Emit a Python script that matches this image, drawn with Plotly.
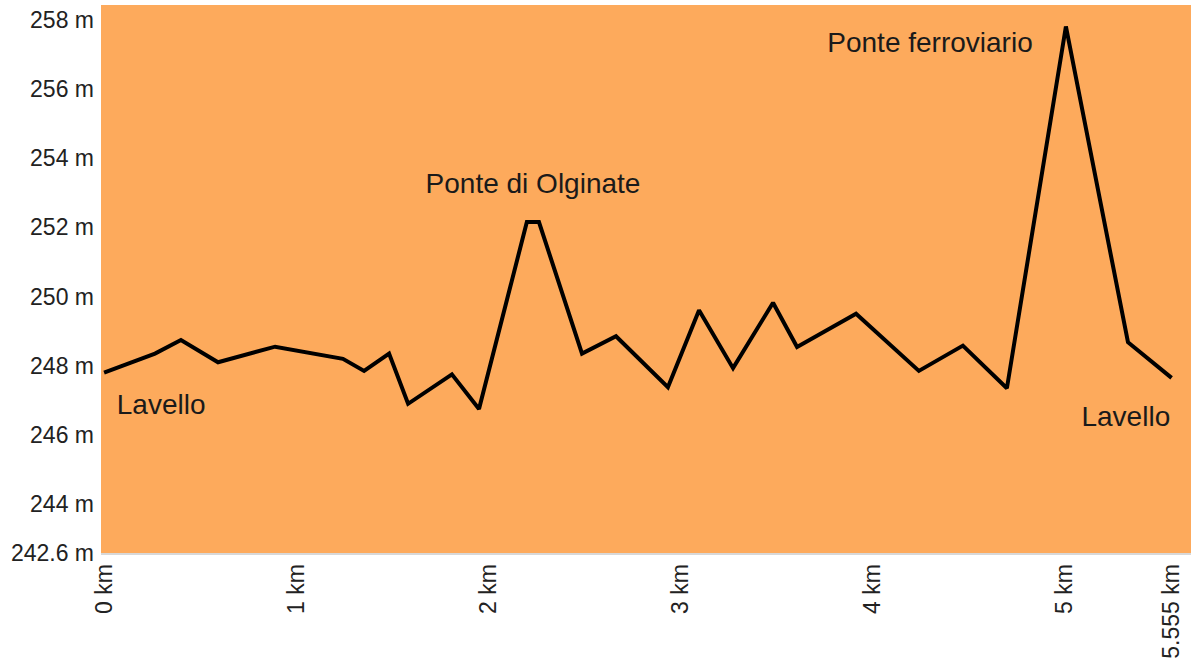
import plotly.graph_objects as go

distance_km = [0, 0.265, 0.40, 0.593, 0.89, 1.243, 1.353, 1.483, 1.582, 1.81, 1.951,
               2.20, 2.263, 2.487, 2.664, 2.934, 3.096, 3.273, 3.481, 3.606, 3.913,
               4.24, 4.469, 4.698, 5.005, 5.328, 5.555]
elevation_m = [247.8, 248.35, 248.74, 248.1, 248.55, 248.2, 247.85, 248.35, 246.9, 247.75, 246.75,
               252.15, 252.15, 248.35, 248.85, 247.38, 249.6, 247.93, 249.82, 248.54, 249.5,
               247.85, 248.58, 247.35, 257.8, 248.68, 247.65]

x_ticks = [0, 1, 2, 3, 4, 5, 5.555]
x_tick_labels = ["0 km", "1 km", "2 km", "3 km", "4 km", "5 km", "5.555 km"]
y_ticks = [242.6, 244, 246, 248, 250, 252, 254, 256, 258]
y_tick_labels = ["242.6 m", "244 m", "246 m", "248 m", "250 m", "252 m", "254 m", "256 m", "258 m"]

label_text = ["Lavello", "Ponte di Olginate", "Ponte ferroviario", "Lavello"]
label_x = [0.297, 2.232, 4.298, 5.317]
label_y = [246.8, 253.18, 257.26, 246.46]

fig = go.Figure()
fig.add_trace(go.Scatter(
    x=distance_km, y=elevation_m, mode="lines",
    line=dict(color="black", width=4), hoverinfo="skip", showlegend=False,
))
fig.add_trace(go.Scatter(
    x=label_x, y=label_y, mode="text", text=label_text,
    textposition="middle center",
    textfont=dict(family="Liberation Sans, Arial", size=28, color="#1a1a1a"),
    hoverinfo="skip", showlegend=False,
))

fig.update_layout(
    width=1193, height=668,
    margin=dict(l=101, r=2, t=5, b=115),
    paper_bgcolor="white",
    plot_bgcolor="#FDAA5C",
    font=dict(family="Liberation Sans, Arial", size=23, color="#222"),
    xaxis=dict(
        range=[-0.016, 5.656], tickvals=x_ticks, ticktext=x_tick_labels,
        tickangle=-90, showgrid=False, zeroline=False,
        showline=True, linecolor="#d8d8d8", linewidth=2,
        ticks="", ticklen=0, automargin=False,
    ),
    yaxis=dict(
        range=[242.59, 258.42], tickvals=y_ticks, ticktext=y_tick_labels,
        showgrid=False, zeroline=False, ticks="", automargin=False,
        ticklabelstandoff=6,
    ),
)

fig.write_html(
    "out.html",
    config={"displayModeBar": False},
    post_script="document.body.style.margin='0px';document.body.style.overflow='hidden';",
)
